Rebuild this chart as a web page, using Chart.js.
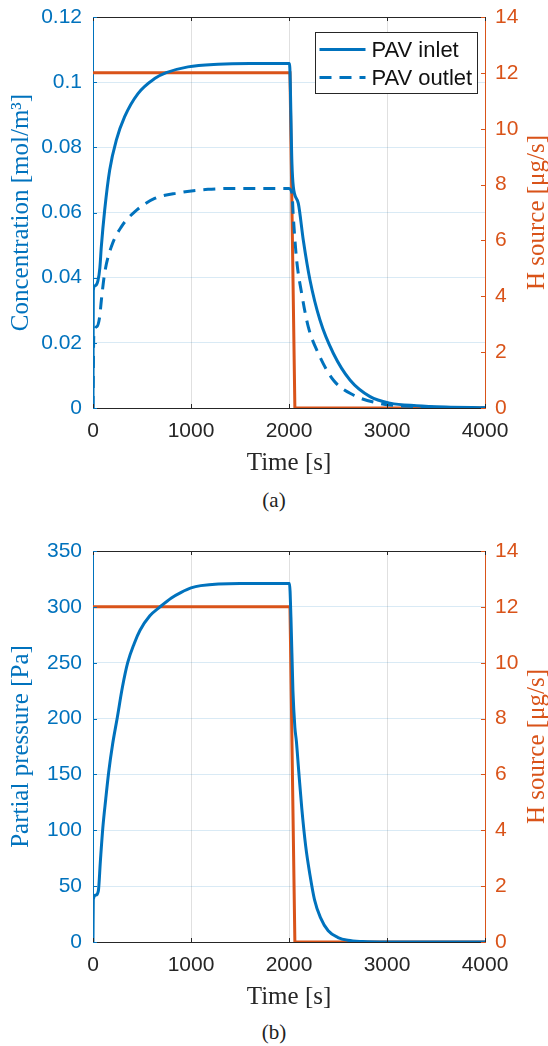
<!DOCTYPE html>
<html><head><meta charset="utf-8">
<script src="https://cdn.jsdelivr.net/npm/chart.js@4.4.1/dist/chart.umd.min.js"></script>
<style>
html,body{margin:0;padding:0;background:#fff;}
#wrap{position:relative;width:548px;height:1046px;overflow:hidden;background:#fff;}
canvas{position:absolute;left:0;display:block;}
.cap{position:absolute;left:0;width:548px;text-align:center;font-family:'Liberation Serif','DejaVu Serif',serif;font-size:21px;line-height:24px;color:#222;}
</style></head><body>
<div id="wrap">
<canvas id="c1" width="548" height="480" style="top:0px"></canvas>
<div class="cap" style="top:488px">(a)</div>
<canvas id="c2" width="548" height="480" style="top:534px"></canvas>
<div class="cap" style="top:1020px">(b)</div>
</div>
<script>
// ---- tick labels ----
const timeTicks = ['0','1000','2000','3000','4000'];
const concTicks = ['0','0.02','0.04','0.06','0.08','0.1','0.12'];
const pressTicks = ['0','50','100','150','200','250','300','350'];
const sourceTicks = ['0','2','4','6','8','10','12','14'];

// ---- series names ----
const seriesNames = ['PAV inlet','PAV outlet','H source'];

// ---- (a) PAV inlet concentration ----
const inletT = [0,3,20,50,70,85,119,170,238,323,459,629,748,969,1276,1600,2005,2030,2044,2095,2146,2214,2316,2452,2622,2827,3031,3300,3600,4000];
const inletC = [0,0.036,0.0375,0.039,0.043,0.0495,0.0607,0.073,0.0822,0.0894,0.0965,0.1011,0.1029,0.1047,0.1055,0.1057,0.1057,0.075,0.0679,0.0628,0.0515,0.0393,0.027,0.0168,0.0086,0.0035,0.0015,0.0007,0.0003,0.0001];

// ---- (a) PAV outlet concentration ----
const outletT = [0,8,40,68,85,119,187,289,425,629,867,1173,1500,1995,2030,2044,2078,2129,2197,2299,2452,2656,2929,3300,3700,4000];
const outletC = [0,0.022,0.025,0.028,0.033,0.0414,0.0495,0.0556,0.0602,0.0643,0.066,0.0671,0.0674,0.0674,0.066,0.0587,0.0454,0.0352,0.0249,0.0168,0.0086,0.004,0.0014,0.0004,0.0001,0];

// ---- H source (both panels) ----
const sourceT = [0,2010,2060,4000];
const sourceV = [12,12,0,0];

// ---- (b) partial pressure ----
const pressT = [0,3,30,55,75,100,130,160,200,248,300,354,420,480,580,684,800,900,1000,1100,1500,2005,2020,2040,2060,2075,2100,2130,2170,2214,2260,2320,2400,2500,2600,2750,3000,4000];
const pressP = [0,38,42,46,72,102,128,152,177,201,228,250,267,279,292,300,308,313,317,319,321,321,290,225,192,180,152,120,86,60,38,22,10,4,1.5,0.4,0,0];

const BLUE = '#0072BD', ORANGE = '#D95319', DARK = '#262626';
const SANS = "'Liberation Sans', Arial, Helvetica, sans-serif";
const SERIF = "'Liberation Serif', 'DejaVu Serif', serif";

function pts(xs, ys){ return xs.map((x,i)=>({x:x, y:ys[i]})); }

function decor(rightTitle, showLegend){
  return {
    id:'decor',
    afterDraw(chart){
      const {ctx, chartArea:a, scales} = chart;
      ctx.save();
      ctx.lineWidth = 1;
      ctx.strokeStyle = DARK;
      ctx.beginPath(); ctx.moveTo(a.left, a.top+0.5); ctx.lineTo(a.right, a.top+0.5); ctx.stroke();
      scales.x.ticks.forEach(t=>{
        const px = Math.round(scales.x.getPixelForValue(t.value))+0.5;
        ctx.beginPath(); ctx.moveTo(px,a.bottom); ctx.lineTo(px,a.bottom-4);
        ctx.moveTo(px,a.top); ctx.lineTo(px,a.top+4); ctx.stroke();
      });
      ctx.strokeStyle = BLUE;
      scales.y.ticks.forEach(t=>{
        const py = Math.round(scales.y.getPixelForValue(t.value))+0.5;
        ctx.beginPath(); ctx.moveTo(a.left,py); ctx.lineTo(a.left+4,py); ctx.stroke();
      });
      ctx.strokeStyle = ORANGE;
      scales.y2.ticks.forEach(t=>{
        const py = Math.round(scales.y2.getPixelForValue(t.value))+0.5;
        ctx.beginPath(); ctx.moveTo(a.right,py); ctx.lineTo(a.right-4,py); ctx.stroke();
      });
      ctx.save();
      ctx.translate(537, (a.top+a.bottom)/2);
      ctx.rotate(-Math.PI/2);
      ctx.font = '25px ' + SERIF;
      ctx.fillStyle = ORANGE;
      ctx.textAlign = 'center'; ctx.textBaseline = 'middle';
      ctx.fillText(rightTitle, 0, 0);
      ctx.restore();
      if (showLegend){
        ctx.font = '22px ' + SANS;
        const items = chart.data.datasets.slice(0,2);
        let tw = 0; items.forEach(d=>{ tw = Math.max(tw, ctx.measureText(d.label).width); });
        const w = Math.round(4+46+6+tw+5), h = 61;
        const bx = Math.round(a.right - 8 - w)+0.5, by = Math.round(a.top + 15)+0.5;
        ctx.fillStyle = '#fff'; ctx.fillRect(bx,by,w,h);
        ctx.strokeStyle = DARK; ctx.lineWidth = 1; ctx.setLineDash([]);
        ctx.strokeRect(bx,by,w,h);
        items.forEach((d,i)=>{
          const yy = by + 17 + i*28;
          ctx.strokeStyle = d.borderColor; ctx.lineWidth = 3;
          ctx.setLineDash(d.borderDash || []);
          ctx.beginPath(); ctx.moveTo(bx+4, yy); ctx.lineTo(bx+50, yy); ctx.stroke();
          ctx.setLineDash([]);
          ctx.fillStyle = '#111'; ctx.textAlign='left'; ctx.textBaseline='middle';
          ctx.fillText(d.label, bx+56, yy+1);
        });
      }
      ctx.restore();
    }
  };
}

function scalesCfg(leftMax, leftStep, leftLabels, leftTitle){
  return {
    x:{type:'linear', position:'bottom', min:0, max:4000,
       ticks:{stepSize:1000, color:DARK, font:{family:SANS,size:21}, padding:11, maxRotation:0, autoSkip:false,
              callback:(v,i)=>timeTicks[i]},
       grid:{color:'rgba(38,38,38,0.14)', drawTicks:false, lineWidth:1},
       border:{color:DARK, width:1},
       title:{display:true, text:'Time [s]', color:DARK, font:{family:SERIF,size:25}, padding:{top:0,bottom:2}},
       afterFit(s){ s.height = 72; }},
    y:{type:'linear', position:'left', min:0, max:leftMax,
       ticks:{stepSize:leftStep, color:BLUE, font:{family:SANS,size:21,lineHeight:0.4}, padding:11, autoSkip:false,
              callback:(v,i)=>leftLabels[i]},
       grid:{color:'rgba(0,114,189,0.15)', drawTicks:false, lineWidth:1},
       border:{color:BLUE, width:1},
       title:{display:true, text:leftTitle, color:BLUE, font:{family:SERIF,size:25}, padding:{top:6,bottom:0}},
       afterFit(s){ s.width = 93; }},
    y2:{type:'linear', position:'right', min:0, max:14,
       ticks:{stepSize:2, color:ORANGE, font:{family:SANS,size:21,lineHeight:0.4}, padding:10, autoSkip:false,
              callback:(v,i)=>sourceTicks[i]},
       grid:{drawOnChartArea:false, drawTicks:false},
       border:{color:ORANGE, width:1},
       afterFit(s){ s.width = 63; }}
  };
}

const common = {
  responsive:false, animation:false, devicePixelRatio:1,
  layout:{padding:{top:17,left:0,right:0,bottom:0}},
  plugins:{legend:{display:false}, tooltip:{enabled:false}},
  elements:{point:{radius:0}}
};

new Chart(document.getElementById('c1'), {
  type:'line',
  data:{datasets:[
    {label:seriesNames[0], data:pts(inletT,inletC), yAxisID:'y', borderColor:BLUE, borderWidth:3, cubicInterpolationMode:'monotone', fill:false},
    {label:seriesNames[1], data:pts(outletT,outletC), yAxisID:'y', borderColor:BLUE, borderWidth:3, borderDash:[12,8], cubicInterpolationMode:'monotone', fill:false},
    {label:seriesNames[2], data:pts(sourceT,sourceV), yAxisID:'y2', borderColor:ORANGE, borderWidth:3, tension:0, fill:false}
  ]},
  options:Object.assign({}, common, {scales:scalesCfg(0.12, 0.02, concTicks, 'Concentration [mol/m³]')}),
  plugins:[decor('H source [μg/s]', true)]
});

new Chart(document.getElementById('c2'), {
  type:'line',
  data:{datasets:[
    {label:'Partial pressure', data:pts(pressT,pressP), yAxisID:'y', borderColor:BLUE, borderWidth:3, cubicInterpolationMode:'monotone', fill:false},
    {label:seriesNames[2], data:pts(sourceT,sourceV), yAxisID:'y2', borderColor:ORANGE, borderWidth:3, tension:0, fill:false}
  ]},
  options:Object.assign({}, common, {scales:scalesCfg(350, 50, pressTicks, 'Partial pressure [Pa]')}),
  plugins:[decor('H source [μg/s]', false)]
});
</script>
</body></html>
